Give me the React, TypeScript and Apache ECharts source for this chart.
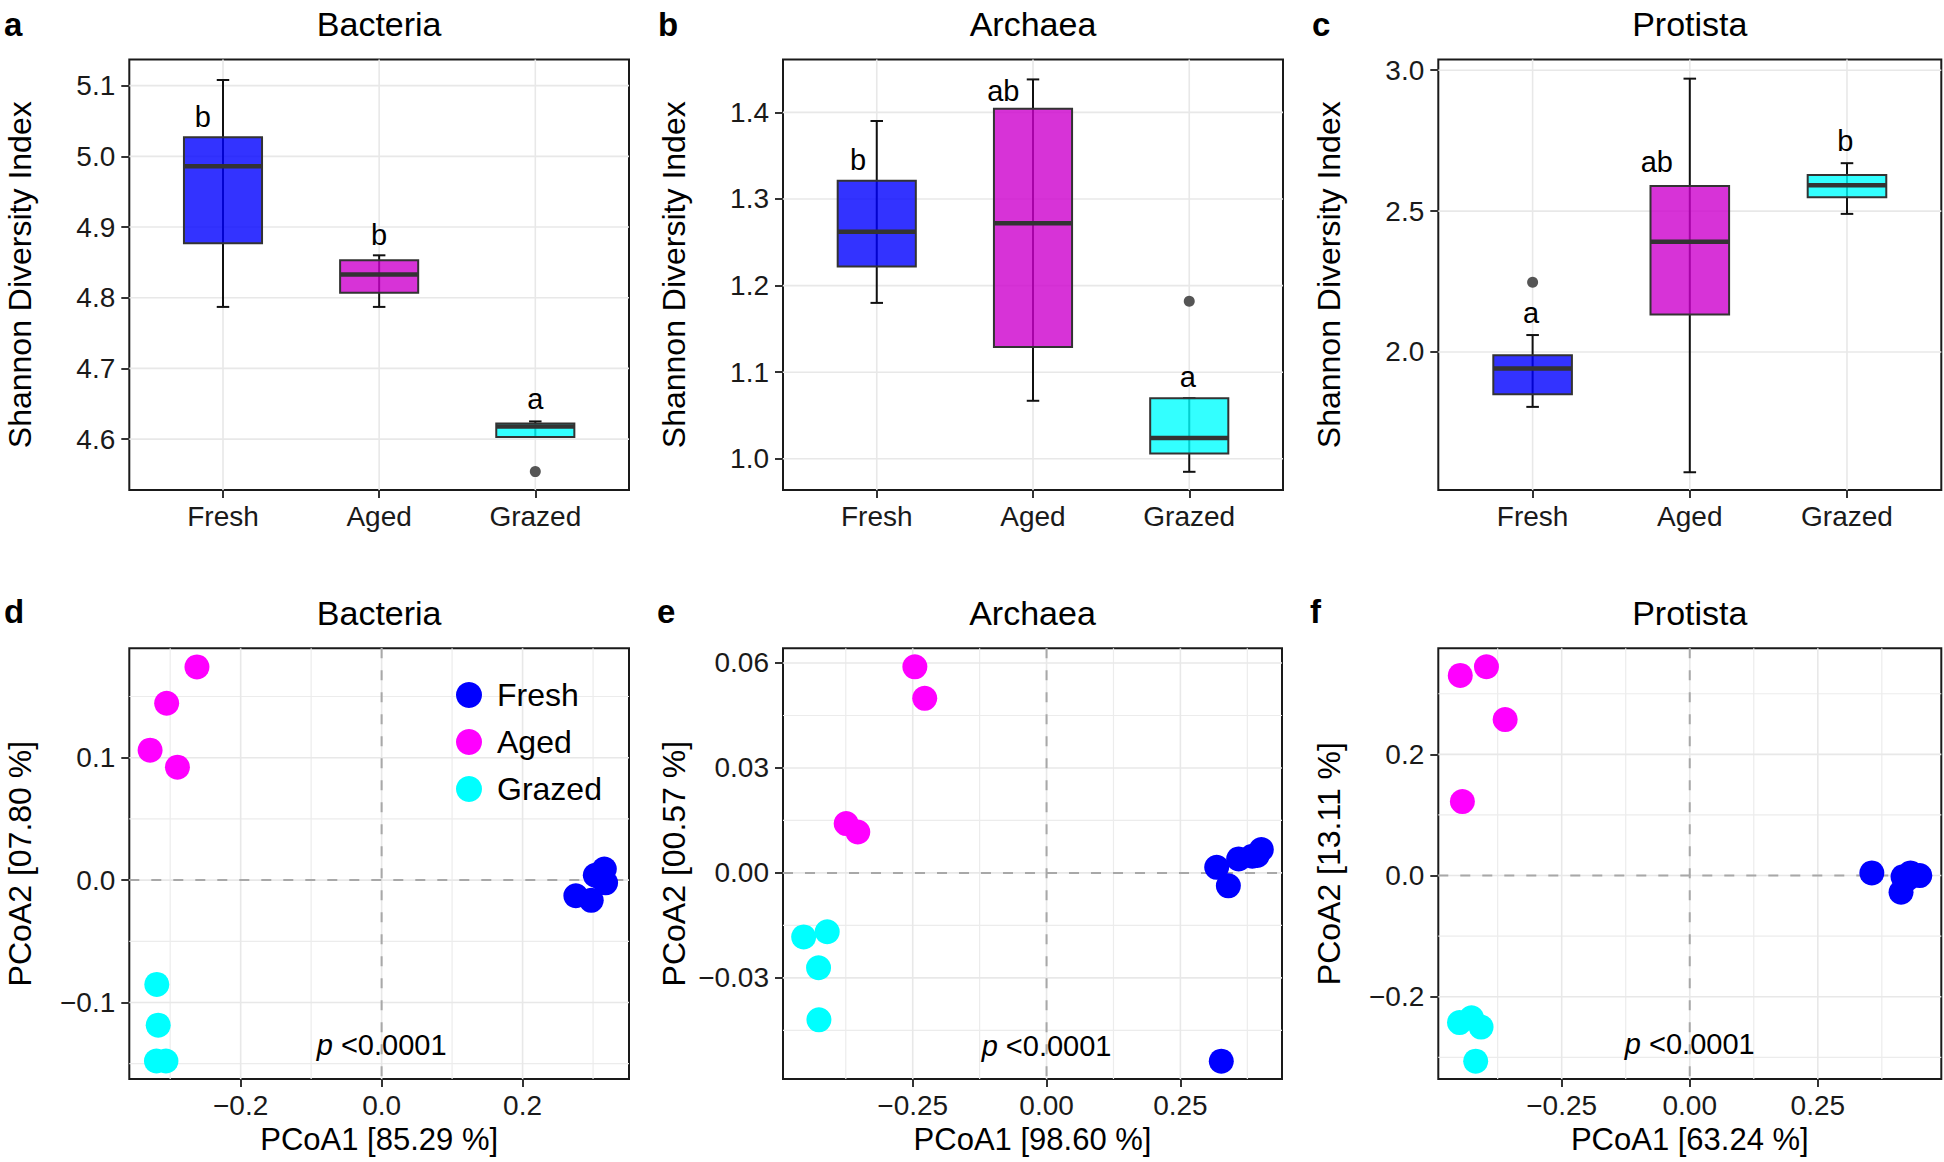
import React, { useEffect, useRef } from 'react';
import * as echarts from 'echarts';

const FONT = 'Liberation Sans, Arial, Helvetica, sans-serif';

const groups = ['Fresh', 'Aged', 'Grazed'];
const boxFill = ['rgba(0,0,255,0.8)', 'rgba(205,0,205,0.8)', 'rgba(0,255,255,0.8)'];
const pointColors = ['#0000ff', '#ff00ff', '#00ffff'];
const categoryPos = [0, 1, 2];

// ---- Box plot statistics [min, q1, median, q3, max] ----
const bacteriaBox = [
  [4.787, 4.877, 4.986, 5.027, 5.108],
  [4.787, 4.807, 4.833, 4.853, 4.860],
  [4.603, 4.603, 4.618, 4.622, 4.625],
];
const bacteriaOutliers = [[2, 4.554]];
const bacteriaLetters = ['b', 'b', 'a'];
const bacteriaLetterX = [-0.13, 1, 2];
const bacteriaLetterY = [5.056, 4.889, 4.657];
const bacteriaYTicks = [4.6, 4.7, 4.8, 4.9, 5.0, 5.1];
const bacteriaYLabels = ['4.6', '4.7', '4.8', '4.9', '5.0', '5.1'];

const archaeaBox = [
  [1.180, 1.222, 1.262, 1.321, 1.390],
  [1.067, 1.129, 1.272, 1.404, 1.438],
  [0.985, 1.006, 1.024, 1.070, 1.070],
];
const archaeaOutliers = [[2, 1.182]];
const archaeaLetters = ['b', 'ab', 'a'];
const archaeaLetterX = [-0.12, 0.81, 1.99];
const archaeaLetterY = [1.345, 1.425, 1.095];
const archaeaYTicks = [1.0, 1.1, 1.2, 1.3, 1.4];
const archaeaYLabels = ['1.0', '1.1', '1.2', '1.3', '1.4'];

const protistaBox = [
  [1.805, 1.850, 1.941, 1.988, 2.060],
  [1.573, 2.133, 2.391, 2.589, 2.970],
  [2.490, 2.549, 2.592, 2.628, 2.670],
];
const protistaOutliers = [[0, 2.247]];
const protistaLetters = ['a', 'ab', 'b'];
const protistaLetterX = [-0.01, 0.79, 1.99];
const protistaLetterY = [2.139, 2.674, 2.747];
const protistaYTicks = [2.0, 2.5, 3.0];
const protistaYLabels = ['2.0', '2.5', '3.0'];

// ---- PCoA points ----
const bactFresh = [[0.2756, -0.0128], [0.2974, -0.0165], [0.3032, 0.004], [0.316, 0.0091], [0.3178, -0.0022], [0.310, 0.0024]];
const bactAged = [[-0.262, 0.1742], [-0.305, 0.1445], [-0.3285, 0.1062], [-0.2897, 0.0923]];
const bactGrazed = [[-0.319, -0.0852], [-0.317, -0.1185], [-0.3195, -0.1478], [-0.306, -0.1478]];
const bactXTicks = [-0.2, 0, 0.2];
const bactXLabels = ['\u22120.2', '0.0', '0.2'];
const bactYTicks = [-0.1, 0, 0.1];
const bactYLabels = ['\u22120.1', '0.0', '0.1'];
const bactXMinor = [-0.3, -0.1, 0.1, 0.3];
const bactYMinor = [-0.15, -0.05, 0.05, 0.15];

const archFresh = [[0.3178, 0.0016], [0.3396, -0.0037], [0.3588, 0.004], [0.3843, 0.0048], [0.4012, 0.0067], [0.3935, 0.005], [0.3264, -0.0538]];
const archAged = [[-0.246, 0.0589], [-0.2276, 0.0499], [-0.3743, 0.0141], [-0.3526, 0.0117]];
const archGrazed = [[-0.4537, -0.0183], [-0.4097, -0.0168], [-0.4259, -0.0271], [-0.4252, -0.042]];
const archXTicks = [-0.25, 0, 0.25];
const archXLabels = ['\u22120.25', '0.00', '0.25'];
const archYTicks = [-0.03, 0, 0.03, 0.06];
const archYLabels = ['\u22120.03', '0.00', '0.03', '0.06'];
const archXMinor = [-0.375, -0.125, 0.125, 0.375];
const archYMinor = [-0.045, -0.015, 0.015, 0.045];

const protFresh = [[0.3555, 0.0044], [0.4125, -0.0276], [0.4164, -0.0018], [0.431, 0.0044], [0.449, 0.0], [0.424, -0.006]];
const protAged = [[-0.448, 0.3303], [-0.3969, 0.3445], [-0.3604, 0.2574], [-0.4439, 0.122]];
const protGrazed = [[-0.4495, -0.2426], [-0.4261, -0.2346], [-0.4074, -0.25], [-0.4179, -0.3063]];
const protXTicks = [-0.25, 0, 0.25];
const protXLabels = ['\u22120.25', '0.00', '0.25'];
const protYTicks = [-0.2, 0, 0.2];
const protYLabels = ['\u22120.2', '0.0', '0.2'];
const protXMinor = [-0.375, -0.125, 0.125, 0.375];
const protYMinor = [-0.3, -0.1, 0.1, 0.3];

const pValueText = 'p <0.0001';
const pValuePos = [[0, -0.1345], [0, -0.0494], [0, -0.2776]];

const titles = ['Bacteria', 'Archaea', 'Protista'];
const panelLetters = ['a', 'b', 'c', 'd', 'e', 'f'];
const pcoaXNames = ['PCoA1 [85.29 %]', 'PCoA1 [98.60 %]', 'PCoA1 [63.24 %]'];
const pcoaYNames = ['PCoA2 [07.80 %]', 'PCoA2 [00.57 %]', 'PCoA2 [13.11 %]'];
const boxYName = 'Shannon Diversity Index';

// ---- layout ----
const grids = [
  { left: 129.3, top: 59.5, width: 499.7, height: 430.5 },
  { left: 783, top: 59.5, width: 500, height: 430.5 },
  { left: 1438.3, top: 59.5, width: 503, height: 430.5 },
  { left: 129.3, top: 648.3, width: 499.7, height: 430.7 },
  { left: 783, top: 648.3, width: 499, height: 430.7 },
  { left: 1438.3, top: 648.3, width: 503, height: 430.7 },
];
const xRanges = [
  [-0.6, 2.6], [-0.6, 2.6], [-0.6, 2.6],
  [-0.358, 0.351], [-0.4923, 0.4398], [-0.4909, 0.4911],
];
const yRanges = [
  [4.528, 5.137], [0.964, 1.461], [1.51, 3.038],
  [-0.1625, 0.1894], [-0.0589, 0.0642], [-0.3357, 0.375],
];

const TICK_FONT = 28;

function makeAxis(gi: number, range: number[], ticks: number[], labels: string[], isX: boolean) {
  const fmt = (v: number) => {
    for (let i = 0; i < ticks.length; i++) if (Math.abs(ticks[i] - v) < 1e-7) return labels[i];
    return '';
  };
  return {
    type: 'value',
    gridIndex: gi,
    min: range[0],
    max: range[1],
    axisLine: { show: false, onZero: false },
    axisTick: { show: true, inside: false, customValues: ticks, length: 8, lineStyle: { color: '#333', width: 2 } },
    axisLabel: {
      show: true, customValues: ticks, formatter: fmt, hideOverlap: false,
      fontSize: TICK_FONT, fontFamily: FONT, color: '#1a1a1a', margin: isX ? 12 : 14,
    },
    splitLine: { show: false },
    minorSplitLine: { show: false },
  };
}

function lineSeries(gi: number, values: number[], orient: 'h' | 'v', color: string, width: number, dash?: number[], z = 1) {
  return {
    type: 'custom', xAxisIndex: gi, yAxisIndex: gi, silent: true, z,
    data: values.map((v) => [v, v]),
    encode: { x: 0, y: 1 },
    renderItem: (params: any, api: any) => {
      const cs = params.coordSys;
      const p = api.coord([api.value(0), api.value(1)]);
      const shape = orient === 'h'
        ? { x1: cs.x, y1: p[1], x2: cs.x + cs.width, y2: p[1] }
        : { x1: p[0], y1: cs.y, x2: p[0], y2: cs.y + cs.height };
      return { type: 'line', shape, style: { stroke: color, lineWidth: width, lineDash: dash || null } };
    },
  };
}

function boxSeries(gi: number, stats: number[][]) {
  return {
    type: 'custom', xAxisIndex: gi, yAxisIndex: gi, z: 3, silent: true,
    data: stats.map((s, i) => [categoryPos[i], ...s]),
    encode: { x: 0, y: [1, 2, 3, 4, 5] },
    renderItem: (params: any, api: any) => {
      const x = api.value(0);
      const idx = params.dataIndex;
      const c = (v: number) => api.coord([x, v]);
      const cx = c(api.value(1))[0];
      const yMin = c(api.value(1))[1];
      const yQ1 = c(api.value(2))[1];
      const yMed = c(api.value(3))[1];
      const yQ3 = c(api.value(4))[1];
      const yMax = c(api.value(5))[1];
      const bw = api.size([0.5, 0])[0];
      const cw = api.size([0.08, 0])[0];
      const ws = { stroke: '#111', lineWidth: 2 };
      return {
        type: 'group',
        children: [
          { type: 'line', shape: { x1: cx, y1: yMax, x2: cx, y2: yMin }, style: ws },
          { type: 'line', shape: { x1: cx - cw / 2, y1: yMax, x2: cx + cw / 2, y2: yMax }, style: ws },
          { type: 'line', shape: { x1: cx - cw / 2, y1: yMin, x2: cx + cw / 2, y2: yMin }, style: ws },
          {
            type: 'rect',
            shape: { x: cx - bw / 2, y: yQ3, width: bw, height: Math.max(yQ1 - yQ3, 0.5) },
            style: { fill: boxFill[idx], stroke: '#333', lineWidth: 2 },
          },
          { type: 'line', shape: { x1: cx - bw / 2, y1: yMed, x2: cx + bw / 2, y2: yMed }, style: { stroke: '#333', lineWidth: 4.5 } },
        ],
      };
    },
  };
}

function textSeries(gi: number, xs: number[], ys: number[], texts: string[], fontSize: number) {
  return {
    type: 'custom', xAxisIndex: gi, yAxisIndex: gi, z: 5, silent: true,
    data: xs.map((x, i) => [x, ys[i]]),
    encode: { x: 0, y: 1 },
    renderItem: (params: any, api: any) => {
      const p = api.coord([api.value(0), api.value(1)]);
      const raw = texts[params.dataIndex];
      const isP = raw.startsWith('p ');
      return {
        type: 'text', x: p[0], y: p[1],
        style: {
          text: isP ? '{i|p} ' + raw.slice(2) : raw,
          rich: { i: { fontStyle: 'italic', fontSize, fontFamily: FONT, fill: '#000' } },
          fontSize, fontFamily: FONT, fill: '#000',
          align: 'center', verticalAlign: 'middle', textAlign: 'center', textVerticalAlign: 'middle',
        },
      };
    },
  };
}

function outlierSeries(gi: number, pts: number[][]) {
  return {
    type: 'scatter', xAxisIndex: gi, yAxisIndex: gi, z: 4, silent: true,
    data: pts, symbolSize: 11, itemStyle: { color: '#555', opacity: 1 },
  };
}

function pointSeries(gi: number, sets: number[][][]) {
  return sets.map((pts, k) => ({
    type: 'scatter', name: groups[k], xAxisIndex: gi, yAxisIndex: gi, z: 4, silent: true,
    data: pts, symbolSize: 25, itemStyle: { color: pointColors[k], opacity: 1 },
  }));
}

function gtext(text: string, x: number, y: number, size: number, opts: any = {}) {
  return {
    type: 'text', x, y, rotation: opts.rotation || 0, silent: true,
    style: {
      text, fontSize: size, fontFamily: FONT, fontWeight: opts.bold ? 'bold' : 'normal', fill: '#000',
      align: opts.align || 'center', textAlign: opts.align || 'center',
      verticalAlign: 'middle', textVerticalAlign: 'middle',
    },
  };
}

function buildOption() {
  const xAxis: any[] = [];
  const yAxis: any[] = [];
  const series: any[] = [];
  const catLabels = groups;

  const boxSets = [
    { stats: bacteriaBox, out: bacteriaOutliers, lx: bacteriaLetterX, ly: bacteriaLetterY, lt: bacteriaLetters, yt: bacteriaYTicks, yl: bacteriaYLabels },
    { stats: archaeaBox, out: archaeaOutliers, lx: archaeaLetterX, ly: archaeaLetterY, lt: archaeaLetters, yt: archaeaYTicks, yl: archaeaYLabels },
    { stats: protistaBox, out: protistaOutliers, lx: protistaLetterX, ly: protistaLetterY, lt: protistaLetters, yt: protistaYTicks, yl: protistaYLabels },
  ];
  boxSets.forEach((b, gi) => {
    xAxis.push(makeAxis(gi, xRanges[gi], categoryPos, catLabels, true));
    yAxis.push(makeAxis(gi, yRanges[gi], b.yt, b.yl, false));
    series.push(lineSeries(gi, b.yt, 'h', '#e8e8e8', 1.6));
    series.push(lineSeries(gi, categoryPos, 'v', '#e8e8e8', 1.6));
    series.push(boxSeries(gi, b.stats));
    series.push(outlierSeries(gi, b.out));
    series.push(textSeries(gi, b.lx, b.ly, b.lt, 29));
  });

  const pcoaSets = [
    { pts: [bactFresh, bactAged, bactGrazed], xt: bactXTicks, xl: bactXLabels, yt: bactYTicks, yl: bactYLabels, xm: bactXMinor, ym: bactYMinor },
    { pts: [archFresh, archAged, archGrazed], xt: archXTicks, xl: archXLabels, yt: archYTicks, yl: archYLabels, xm: archXMinor, ym: archYMinor },
    { pts: [protFresh, protAged, protGrazed], xt: protXTicks, xl: protXLabels, yt: protYTicks, yl: protYLabels, xm: protXMinor, ym: protYMinor },
  ];
  pcoaSets.forEach((p, k) => {
    const gi = k + 3;
    xAxis.push(makeAxis(gi, xRanges[gi], p.xt, p.xl, true));
    yAxis.push(makeAxis(gi, yRanges[gi], p.yt, p.yl, false));
    series.push(lineSeries(gi, p.ym, 'h', '#ececec', 1.2));
    series.push(lineSeries(gi, p.xm, 'v', '#ececec', 1.2));
    series.push(lineSeries(gi, p.yt, 'h', '#e8e8e8', 1.6));
    series.push(lineSeries(gi, p.xt, 'v', '#e8e8e8', 1.6));
    series.push(lineSeries(gi, [0], 'h', '#a8a8a8', 2, [10, 12], 2));
    series.push(lineSeries(gi, [0], 'v', '#a8a8a8', 2, [10, 12], 2));
    series.push(...pointSeries(gi, p.pts));
    series.push(textSeries(gi, [pValuePos[k][0]], [pValuePos[k][1]], [pValueText], 29));
  });

  const graphic: any[] = [];
  const letterX = [4, 658, 1312, 4, 657, 1310];
  grids.forEach((g, i) => {
    const row = i < 3 ? 0 : 1;
    const cx = g.left + g.width / 2;
    const cy = g.top + g.height / 2;
    graphic.push(gtext(titles[i % 3], cx, row === 0 ? 23.5 : 613, 34));
    graphic.push(gtext(panelLetters[i], letterX[i], row === 0 ? 24.5 : 611.3, 33, { bold: true, align: 'left' }));
    const yName = row === 0 ? boxYName : pcoaYNames[i - 3];
    graphic.push(gtext(yName, g.left - 109, cy, 32, { rotation: Math.PI / 2 }));
    if (row === 1) graphic.push(gtext(pcoaXNames[i - 3], cx, 1139, 31));
  });

  return {
    animation: false,
    backgroundColor: '#ffffff',
    textStyle: { fontFamily: FONT },
    grid: grids.map((g) => ({ ...g, show: true, borderColor: '#1a1a1a', borderWidth: 2, backgroundColor: 'transparent', containLabel: false })),
    xAxis,
    yAxis,
    legend: {
      data: groups, orient: 'vertical', left: 451, top: 674, itemWidth: 46, itemHeight: 26, itemGap: 15,
      icon: 'circle', selectedMode: false,
      textStyle: { fontSize: 32, fontFamily: FONT, color: '#000', lineHeight: 32 },
    },
    series,
    graphic,
  };
}

export default function App() {
  const ref = useRef<HTMLDivElement>(null);
  useEffect(() => {
    if (!ref.current) return;
    const chart = echarts.init(ref.current, undefined, { renderer: 'svg' });
    chart.setOption(buildOption() as any);
    return () => chart.dispose();
  }, []);
  return <div ref={ref} style={{ position: 'absolute', left: 0, top: 0, width: 1944, height: 1162, background: '#fff' }} />;
}
